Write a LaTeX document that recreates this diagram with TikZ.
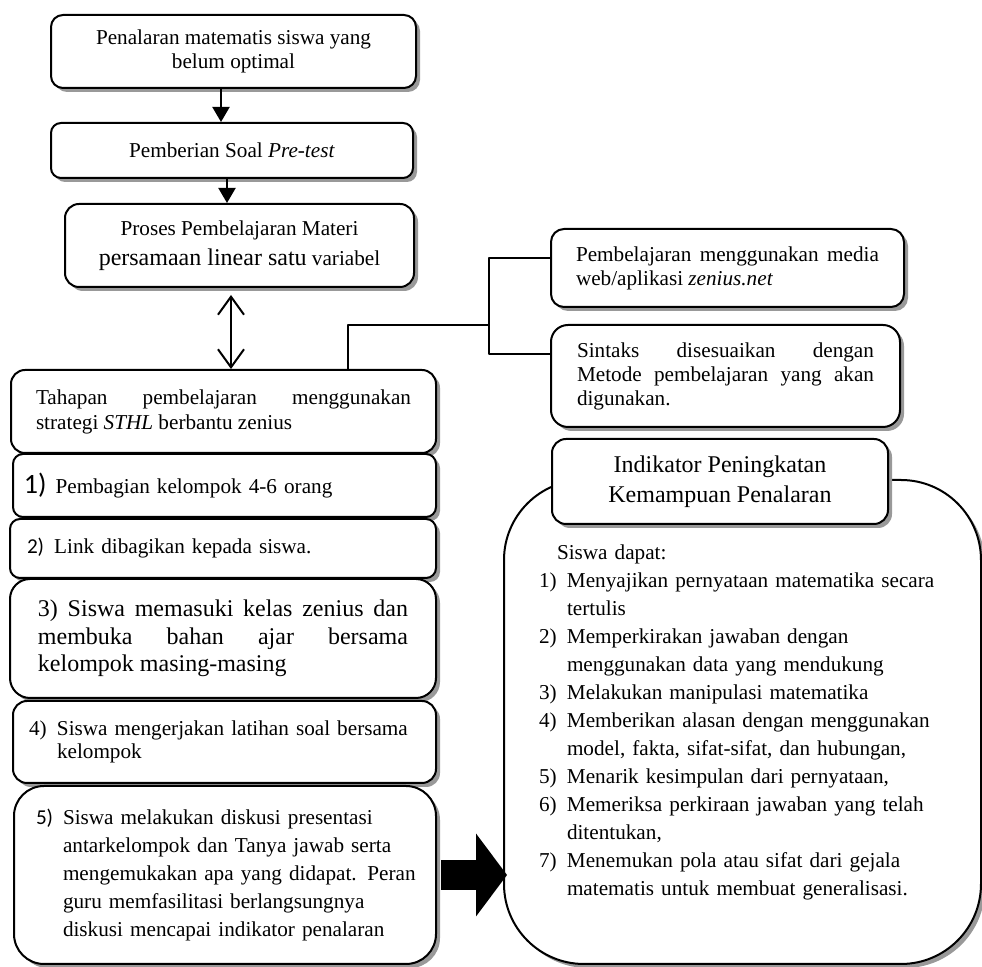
\documentclass[tikz,border=0pt]{standalone}
\usepackage{fontspec}
\setmainfont{Liberation Serif}
\newfontfamily\numfont{Carlito}
\usetikzlibrary{arrows.meta,shadows}
\tikzset{kotak/.style={draw,line width=1pt,fill=white,anchor=north west,inner ysep=0pt,drop shadow={shadow xshift=2pt,shadow yshift=-2pt,fill=black!40,opacity=1}},
panah/.style={line width=1pt,-{Triangle[length=7.5pt 0 0,width=8.5pt 0 0]}},
duapanah/.style={line width=1pt,{Straight Barb[length=9pt 0 0,width=13pt 0 0]}-{Straight Barb[length=9pt 0 0,width=13pt 0 0]}}}
\begin{document}
\begin{tikzpicture}[x=0.5pt,y=-0.5pt,line join=round,font=\fontsize{10.6}{12}\selectfont]
\useasboundingbox (0,0) rectangle (982,967);
\node[kotak,rounded corners=6pt,minimum width=182.5pt,minimum height=36.5pt,align=center] (masalah) at (50,14) {Penalaran matematis siswa yang\\belum optimal};
\node[kotak,rounded corners=5pt,minimum width=181pt,minimum height=27.5pt] (pretest) at (50,122) {Pemberian Soal \textit{Pre-test}};
\node[kotak,rounded corners=7pt,minimum width=174.5pt,minimum height=41.5pt,align=center,font=\fontsize{10.6}{15}\selectfont] (proses) at (64,203) {Proses Pembelajaran Materi\\{\fontsize{12}{15}\selectfont persamaan linear satu} variabel};
\node[kotak,rounded corners=7pt,minimum width=212.5pt,minimum height=41.5pt,inner xsep=12.5pt,text width=187.5pt,align=justify,font=\fontsize{10.6}{12.5}\selectfont] (tahapan) at (10,369) {Tahapan pembelajaran menggunakan\linebreak strategi \textit{STHL} berbantu zenius};
\node[kotak,rounded corners=5pt,minimum width=211.5pt,minimum height=31.5pt,inner xsep=5.5pt,text width=200.5pt,align=left] (langkah1) at (12,453) {{\numfont\fontsize{14}{14}\selectfont 1)}\hspace{4.5pt}Pembagian kelompok 4-6 orang};
\node[kotak,rounded corners=5pt,minimum width=213pt,minimum height=29.5pt,inner xsep=8.5pt,text width=196pt,align=left] (langkah2) at (9,518) {{\numfont 2)}\hspace{5pt}Link dibagikan kepada siswa.};
\node[kotak,rounded corners=10pt,minimum width=213pt,minimum height=59.5pt,inner xsep=14pt,text width=185pt,align=justify,font=\fontsize{12}{13.75}\selectfont] (langkah3) at (9,578) {3) Siswa memasuki kelas zenius dan\linebreak membuka bahan ajar bersama\linebreak kelompok masing-masing};
\node[kotak,rounded corners=7pt,minimum width=211.5pt,minimum height=41pt,inner xsep=8pt,text width=195.5pt,font=\fontsize{10.6}{11.5}\selectfont] (langkah4) at (12,700) {\begin{tabular}{@{}p{14pt}@{}l@{}}4) & Siswa mengerjakan latihan soal bersama\\ & kelompok\end{tabular}};
\node[kotak,rounded corners=15pt,minimum width=211pt,minimum height=89pt,inner xsep=11pt,text width=189pt,font=\fontsize{10.6}{14}\selectfont] (langkah5) at (13,785) {\begin{tabular}{@{}p{13.5pt}@{}l@{}}{\numfont 5)} & Siswa melakukan diskusi presentasi\\ & antarkelompok dan Tanya jawab serta\\ & mengemukakan apa yang didapat. Peran\\ & guru memfasilitasi berlangsungnya\\ & diskusi mencapai indikator penalaran\end{tabular}};
\node[kotak,rounded corners=6.5pt,minimum width=176.5pt,minimum height=39pt,inner xsep=12.5pt,text width=151.5pt,align=justify] (media) at (550,228) {Pembelajaran menggunakan media\linebreak web/aplikasi \textit{zenius.net}};
\node[kotak,rounded corners=8.5pt,minimum width=174.5pt,minimum height=51pt,inner xsep=13pt,text width=148.5pt,align=justify] (sintaks) at (550,324) {Sintaks disesuaikan dengan\linebreak Metode pembelajaran yang akan\linebreak digunakan.};
\node[kotak,rounded corners=40pt,minimum width=238.5pt,minimum height=242pt,inner xsep=17.5pt,text width=203.5pt,font=\fontsize{10.6}{14}\selectfont] (indikator) at (503,479) {\begin{tabular}{@{}p{14pt}@{}l@{}}\multicolumn{2}{@{\hspace{9pt}}l@{}}{Siswa dapat:}\\
1) & Menyajikan pernyataan matematika secara\\ & tertulis\\
2) & Memperkirakan jawaban dengan\\ & menggunakan data yang mendukung\\
3) & Melakukan manipulasi matematika\\
4) & Memberikan alasan dengan menggunakan\\ & model, fakta, sifat-sifat, dan hubungan,\\
5) & Menarik kesimpulan dari pernyataan,\\
6) & Memeriksa perkiraan jawaban yang telah\\ & ditentukan,\\
7) & Menemukan pola atau sifat dari gejala\\ & matematis untuk membuat generalisasi.\end{tabular}};
\node[kotak,rounded corners=7pt,minimum width=168pt,minimum height=42.5pt,align=center,font=\fontsize{12}{15}\selectfont] (judul) at (551,438) {Indikator Peningkatan\\Kemampuan Penalaran};
\draw[panah] ([xshift=-6.25pt]masalah.south) -- ([xshift=-6.25pt]masalah.south |- pretest.north);
\draw[panah] ([xshift=-2.5pt]pretest.south) -- ([xshift=-2.5pt]pretest.south |- proses.north);
\draw[duapanah,shorten <=3.5pt] ([xshift=-4.25pt]proses.south) -- ([xshift=-4.25pt]proses.south |- tahapan.north);
\coordinate (cabang) at (489,325);
\draw[line width=0.8pt] ([xshift=62.25pt]tahapan.north) |- (cabang);
\draw[line width=1pt] ([yshift=5pt]media.west) -| (cabang) |- ([yshift=11pt]sintaks.west);
\draw[line width=15pt,-{Triangle[length=15.5pt 0 0,width=41.5pt 0 0,line width=0pt 0 0]}] ([xshift=2pt]langkah5.east) -- ([xshift=2pt]langkah5.east -| indikator.west);
\end{tikzpicture}
\end{document}
